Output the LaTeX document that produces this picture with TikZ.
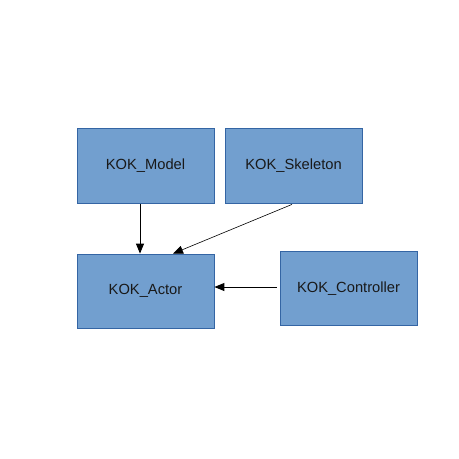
\documentclass[tikz,border=0pt]{standalone}
\usepackage{fontspec}
\setmainfont{Liberation Sans}
\usetikzlibrary{arrows.meta}
\definecolor{boxfill}{HTML}{729FCF}
\definecolor{boxline}{HTML}{3465A4}
\begin{document}
\begin{tikzpicture}[x=1pt,y=-1pt,
  kbox/.style={draw=boxline,fill=boxfill,line width=0.8pt,minimum width=137pt,minimum height=75pt,inner sep=0pt,font=\fontsize{14.7}{17}\selectfont,text=black!90},
  conn/.style={draw=black,line width=0.9pt,-{Triangle[length=10pt,width=8pt]}}]
\useasboundingbox (0,0) rectangle (459,459);
\node[kbox] (model) at (145.5,165.5) {KOK\_Model};
\node[kbox] (skel) at (293.5,165.5) {KOK\_Skeleton};
\node[kbox, minimum height=74pt] (actor) at (145.5,291) {KOK\_Actor};
\node[kbox, minimum height=74pt] (ctrl) at (348.5,288.5) {KOK\_Controller};
\draw[conn] ([xshift=-5.5pt,yshift=-1pt]model.south) -- ([xshift=-5.5pt]actor.north);
\draw[conn,line width=0.6pt] ([xshift=-1.5pt,yshift=-1pt]skel.south) -- ([xshift=27.5pt]actor.north);
\draw[conn] ([xshift=-3pt,yshift=1.5pt]ctrl.west) -- ([yshift=4pt]actor.east);
\end{tikzpicture}
\end{document}
